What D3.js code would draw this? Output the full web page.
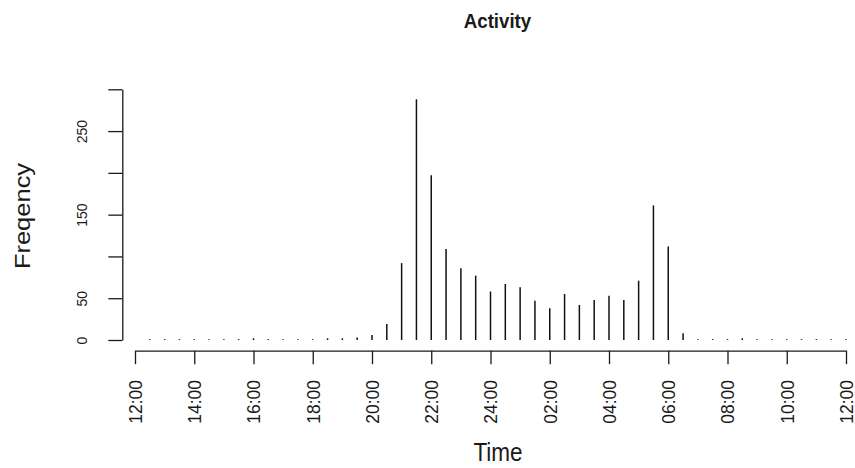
<html lang="en">
<head>
<meta charset="utf-8">
<title>Activity</title>
<style>
  body { margin: 0; background-color: white; }
  svg { display: block; background-color: white; }
  text { font-family: "Liberation Sans", Arial, Helvetica, sans-serif; fill: #1a1a1a; }
  .axis path, .axis line { fill: none; stroke: #1a1a1a; stroke-width: 1.3px; }
  .bar { stroke: #111; stroke-width: 1.5px; }
</style>
</head>
<body>
<script src="https://cdn.jsdelivr.net/npm/d3@7"></script>
<script>
// half-hour bins, from 12:30 to 12:00 next day
var binTimes = ["12:30","13:00","13:30","14:00","14:30","15:00","15:30","16:00",
                "16:30","17:00","17:30","18:00","18:30","19:00","19:30","20:00",
                "20:30","21:00","21:30","22:00","22:30","23:00","23:30","24:00",
                "00:30","01:00","01:30","02:00","02:30","03:00","03:30","04:00",
                "04:30","05:00","05:30","06:00","06:30","07:00","07:30","08:00",
                "08:30","09:00","09:30","10:00","10:30","11:00","11:30","12:00"];
var counts = [1, 1, 1, 1, 1, 1, 1, 2,
              1, 1, 1, 1, 2, 2, 3, 6,
              19, 92, 288, 197, 109, 86, 77, 58,
              67, 63, 47, 38, 55, 42, 48, 53,
              48, 71, 161, 112, 8, 1, 1, 1,
              2, 1, 1, 1, 1, 1, 1, 1];
var xTickLabels = ["12:00","14:00","16:00","18:00","20:00","22:00","24:00",
                   "02:00","04:00","06:00","08:00","10:00","12:00"];
var yTickValues = [0, 50, 100, 150, 200, 250, 300];
var yTickShown = [0, 50, 150, 250];

var fullWidth = 855, fullHeight = 468;

// turn "hh:mm" into hours counted from noon of the first day
function toHours(t, i) {
  var p = t.split(":"), h = +p[0] + (+p[1]) / 60;
  return (i >= 24 && h <= 12) ? h + 24 : h;
}
var data = binTimes.map(function(t, i) { return {t: t, h: toHours(t, i), n: counts[i]}; });

var svg = d3.select("body").append("svg")
  .attr("width", fullWidth)
  .attr("height", fullHeight);

var xScale = d3.scaleLinear().domain([12, 36]).range([135, 846]);
var yScale = d3.scaleLinear().domain([0, 300]).range([340, 89.3]);

// x axis
var xAxis = d3.axisBottom(xScale)
  .tickValues(d3.range(12, 37, 2))
  .tickFormat(function(d, i) { return xTickLabels[i]; })
  .tickSize(13.5)
  .tickSizeOuter(0);

var gx = svg.append("g")
  .attr("class", "axis x-axis")
  .attr("transform", "translate(0,350.7)")
  .call(xAxis);
gx.selectAll("text")
  .attr("x", 0).attr("y", 0).attr("dy", "0.36em")
  .attr("transform", "translate(0,29.3) rotate(-90)")
  .attr("text-anchor", "end")
  .style("font-size", "17.5px");

// y axis
var yAxis = d3.axisLeft(yScale)
  .tickValues(yTickValues)
  .tickFormat(function(d) { return yTickShown.indexOf(d) >= 0 ? d : ""; })
  .tickSize(14)
  .tickSizeOuter(0);

var gy = svg.append("g")
  .attr("class", "axis y-axis")
  .attr("transform", "translate(122.3,0)")
  .call(yAxis);
gy.selectAll("text")
  .attr("x", 0).attr("y", 0).attr("dy", 0)
  .attr("transform", "translate(-35.3,0) rotate(-90)")
  .attr("text-anchor", "middle")
  .style("font-size", "14px");

// bars (type = "h")
svg.append("g")
  .attr("class", "bars")
  .selectAll(".bar")
  .data(data).enter()
  .append("line").attr("class", "bar")
  .attr("x1", function(d) { return xScale(d.h); })
  .attr("x2", function(d) { return xScale(d.h); })
  .attr("y1", yScale(0))
  .attr("y2", function(d) { return yScale(d.n); });

// titles
svg.append("text")
  .attr("transform", "translate(497.5,28.3) scale(0.89,1)")
  .attr("text-anchor", "middle")
  .style("font-size", "21px").style("font-weight", "bold")
  .text("Activity");

svg.append("text")
  .attr("transform", "translate(498,460.7) scale(0.9,1)")
  .attr("text-anchor", "middle")
  .style("font-size", "25px")
  .text("Time");

svg.append("text")
  .attr("transform", "translate(30,216) scale(0.88,1) rotate(-90)")
  .attr("text-anchor", "middle")
  .style("font-size", "25.5px")
  .text("Freqency");
</script>
</body>
</html>
